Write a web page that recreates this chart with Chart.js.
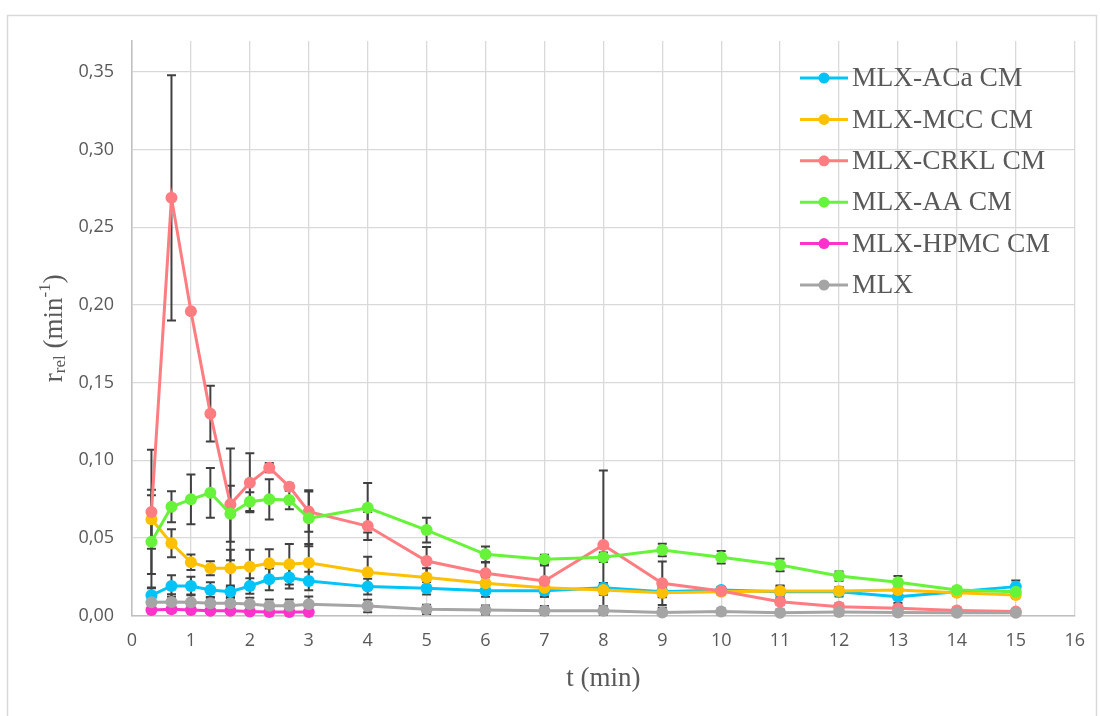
<!DOCTYPE html>
<html>
<head>
<meta charset="utf-8">
<script src="https://cdn.jsdelivr.net/npm/chart.js@4"></script>
<style>
  html, body { margin: 0; padding: 0; background: #ffffff; }
  #wrap { position: relative; width: 1100px; height: 716px; }
</style>
</head>
<body>
<div id="wrap"><canvas id="grafico" width="1100" height="716"></canvas></div>
<script>
// Tempos de amostragem (min)
const TEMPOS = [0.33, 0.67, 1, 1.33, 1.67, 2, 2.33, 2.67, 3, 4, 5, 6, 7, 8, 9, 10, 11, 12, 13, 14, 15];
const TEMPOS_HPMC = [0.33, 0.67, 1, 1.33, 1.67, 2, 2.33, 2.67, 3];

const SERIES = ["MLX-ACa CM", "MLX-MCC CM", "MLX-CRKL CM", "MLX-AA CM", "MLX-HPMC CM", "MLX"];
const CORES = ["#00c3f7", "#ffc000", "#ff7c80", "#66f33a", "#ff33cc", "#a5a5a5"];

// r_rel médio e desvio padrão de cada formulação
const ACA    = [0.013, 0.019, 0.019, 0.0164, 0.0153, 0.019, 0.0233, 0.0244, 0.0222, 0.0186, 0.0175, 0.016, 0.016, 0.0179, 0.0153, 0.0164, 0.0153, 0.0153, 0.0121, 0.0153, 0.0186];
const ACA_DP = [0.005, 0.007, 0.006, 0.005, 0.004, 0.005, 0.007, 0.007, 0.006, 0.005, 0.004, 0.004, 0.004, 0.003, 0.003, 0.002, 0.004, 0.003, 0.004, 0.002, 0.004];

const MCC    = [0.062, 0.0465, 0.0343, 0.0304, 0.0304, 0.0314, 0.0336, 0.033, 0.034, 0.0278, 0.0244, 0.0207, 0.0179, 0.0164, 0.0147, 0.0153, 0.0158, 0.0158, 0.0164, 0.0147, 0.0132];
const MCC_DP = [0.019, 0.009, 0.005, 0.0045, 0.012, 0.011, 0.009, 0.013, 0.012, 0.01, 0.006, 0.004, 0.003, 0.003, 0.003, 0.002, 0.003, 0.002, 0.002, 0.002, 0.002];

const CRKL    = [0.0667, 0.269, 0.196, 0.130, 0.0716, 0.0855, 0.0952, 0.083, 0.0669, 0.0576, 0.0351, 0.0272, 0.0222, 0.0454, 0.0207, 0.0158, 0.0089, 0.0057, 0.0046, 0.0033, 0.0025];
const CRKL_DP = [0.040, 0.079, 0.0, 0.018, 0.036, 0.019, 0.003, 0.002, 0.013, 0.009, 0.009, 0.007, 0.010, 0.048, 0.014, 0.002, 0.002, 0.002, 0.001, 0.001, 0.001];

const AA    = [0.0475, 0.070, 0.0748, 0.079, 0.0655, 0.0733, 0.0748, 0.0744, 0.0626, 0.0694, 0.055, 0.0394, 0.0362, 0.0375, 0.0422, 0.0375, 0.0325, 0.0254, 0.0214, 0.0164, 0.0153];
const AA_DP = [0.030, 0.010, 0.016, 0.016, 0.018, 0.006, 0.013, 0.006, 0.018, 0.016, 0.008, 0.005, 0.003, 0.003, 0.004, 0.004, 0.004, 0.003, 0.004, 0.002, 0.002];

const HPMC    = [0.0035, 0.004, 0.0036, 0.003, 0.003, 0.0025, 0.0022, 0.0022, 0.0022];
const HPMC_DP = [0.001, 0.001, 0.001, 0.001, 0.001, 0.001, 0.001, 0.001, 0.001];

const MLX    = [0.0085, 0.0087, 0.0085, 0.0079, 0.0079, 0.0074, 0.0063, 0.0063, 0.0072, 0.0061, 0.004, 0.0035, 0.0031, 0.003, 0.002, 0.0025, 0.0018, 0.0022, 0.002, 0.0018, 0.0018];
const MLX_DP = [0.005, 0.005, 0.005, 0.004, 0.004, 0.004, 0.004, 0.004, 0.005, 0.004, 0.003, 0.003, 0.003, 0.003, 0.003, 0.002, 0.002, 0.002, 0.002, 0.002, 0.002];

const MEDIAS = [ACA, MCC, CRKL, AA, HPMC, MLX];
const DESVIOS = [ACA_DP, MCC_DP, CRKL_DP, AA_DP, HPMC_DP, MLX_DP];
const EIXOS_X = [TEMPOS, TEMPOS, TEMPOS, TEMPOS, TEMPOS_HPMC, TEMPOS];

const COR_TEXTO = "#595959";
const SERIFA = "'Liberation Serif', 'DejaVu Serif', serif";

(function () {
  "use strict";

  // Barras de erro (±DP), desenhadas antes das linhas
  const barrasErro = {
    id: "barrasErro",
    beforeDatasetsDraw(chart) {
      const { ctx, chartArea, scales } = chart;
      ctx.save();
      ctx.beginPath();
      ctx.rect(chartArea.left, chartArea.top - 2, chartArea.right - chartArea.left, chartArea.bottom - chartArea.top + 2);
      ctx.clip();
      ctx.strokeStyle = "#404040";
      ctx.lineWidth = 2;
      chart.data.datasets.forEach((ds) => {
        ds.data.forEach((p, i) => {
          const e = ds.desvio[i];
          if (!e) return;
          const x = scales.x.getPixelForValue(p.x);
          const y1 = scales.y.getPixelForValue(p.y + e);
          const y2 = scales.y.getPixelForValue(p.y - e);
          ctx.beginPath();
          ctx.moveTo(x, y1); ctx.lineTo(x, y2);
          ctx.moveTo(x - 4.5, y1); ctx.lineTo(x + 4.5, y1);
          ctx.moveTo(x - 4.5, y2); ctx.lineTo(x + 4.5, y2);
          ctx.stroke();
        });
      });
      ctx.restore();
    },
  };

  // Moldura, títulos dos eixos e legenda dentro da área do gráfico
  const decoracao = {
    id: "decoracao",
    beforeDraw(chart) {
      const ctx = chart.ctx;
      ctx.save();
      ctx.strokeStyle = "#d9d9d9";
      ctx.lineWidth = 1.5;
      ctx.strokeRect(7.5, 15.5, 1089, 740);
      ctx.restore();
    },
    afterDraw(chart) {
      const { ctx, chartArea } = chart;
      ctx.save();
      ctx.fillStyle = COR_TEXTO;

      // título do eixo x
      ctx.font = "27px " + SERIFA;
      ctx.textAlign = "center";
      ctx.textBaseline = "middle";
      ctx.fillText("t (min)", (chartArea.left + chartArea.right) / 2, 679);

      // título do eixo y: r_rel (min^-1)
      const partes = [
        { t: "r", f: 27, dy: 0 },
        { t: "rel", f: 17, dy: 6 },
        { t: " (min", f: 27, dy: 0 },
        { t: "-1", f: 17, dy: -9 },
        { t: ")", f: 27, dy: 0 },
      ];
      let total = 0;
      partes.forEach((p) => {
        ctx.font = p.f + "px " + SERIFA;
        p.w = ctx.measureText(p.t).width;
        total += p.w;
      });
      ctx.translate(55, (chartArea.top + chartArea.bottom) / 2);
      ctx.rotate(-Math.PI / 2);
      ctx.textAlign = "left";
      let cx = -total / 2;
      partes.forEach((p) => {
        ctx.font = p.f + "px " + SERIFA;
        ctx.fillText(p.t, cx, p.dy);
        cx += p.w;
      });
      ctx.restore();

      // legenda
      ctx.save();
      ctx.font = "27.5px " + SERIFA;
      ctx.textAlign = "left";
      ctx.textBaseline = "middle";
      SERIES.forEach((nome, i) => {
        const y = 78 + i * 41.4;
        ctx.strokeStyle = CORES[i];
        ctx.lineWidth = 3;
        ctx.beginPath();
        ctx.moveTo(800, y); ctx.lineTo(848, y);
        ctx.stroke();
        ctx.fillStyle = CORES[i];
        ctx.beginPath();
        ctx.arc(824, y, 5.5, 0, Math.PI * 2);
        ctx.fill();
        ctx.fillStyle = COR_TEXTO;
        ctx.fillText(nome, 852, y + 1);
      });
      ctx.restore();
    },
  };

  const datasets = SERIES.map((nome, s) => ({
    label: nome,
    data: EIXOS_X[s].map((t, i) => ({ x: t, y: MEDIAS[s][i] })),
    desvio: DESVIOS[s],
    borderColor: CORES[s],
    backgroundColor: CORES[s],
    pointBackgroundColor: CORES[s],
    pointBorderColor: CORES[s],
    borderWidth: 3,
    pointRadius: 6,
    pointBorderWidth: 0,
    tension: 0,
    order: SERIES.length - s,
    clip: false,
  }));

  const fonteTicks = { family: "'Open Sans', 'Liberation Sans', sans-serif", size: 18 };

  new Chart(document.getElementById("grafico"), {
    type: "line",
    data: { datasets },
    plugins: [barrasErro, decoracao],
    options: {
      responsive: false,
      animation: false,
      events: [],
      layout: { padding: { left: 0, right: 19, top: 41, bottom: 0 } },
      plugins: { legend: { display: false }, tooltip: { enabled: false } },
      scales: {
        x: {
          type: "linear",
          min: 0,
          max: 16,
          ticks: { stepSize: 1, color: COR_TEXTO, font: fonteTicks, padding: 15, maxRotation: 0 },
          grid: { color: "#d9d9d9", lineWidth: 1.3, drawTicks: false },
          border: { color: "#bfbfbf", width: 1.5 },
          afterFit: (escala) => { escala.height = 100.5; },
        },
        y: {
          min: 0,
          max: 0.37,
          ticks: {
            stepSize: 0.05,
            color: COR_TEXTO,
            font: fonteTicks,
            padding: 18,
            callback: (v) => v.toFixed(2).replace(".", ","),
          },
          afterBuildTicks: (escala) => {
            escala.ticks = escala.ticks.filter((t) => Math.abs(t.value / 0.05 - Math.round(t.value / 0.05)) < 1e-6);
          },
          grid: { color: "#d9d9d9", lineWidth: 1.3, drawTicks: false },
          border: { color: "#bfbfbf", width: 1.5 },
          afterFit: (escala) => { escala.width = 132; },
        },
      },
    },
  });
})();
</script>
</body>
</html>
